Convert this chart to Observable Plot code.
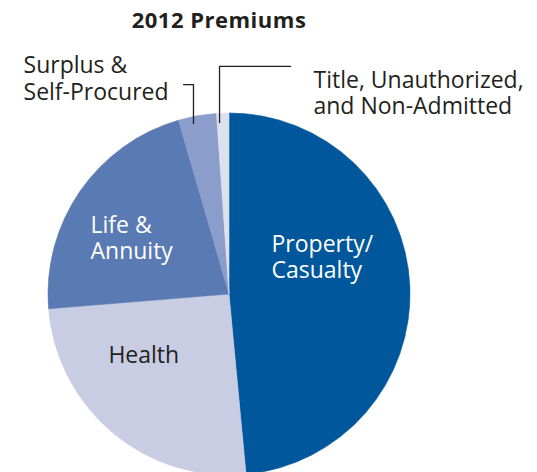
<!DOCTYPE html>
<html><head><meta charset="utf-8">
<script src="https://cdn.jsdelivr.net/npm/d3@7"></script>
<script src="https://cdn.jsdelivr.net/npm/@observablehq/plot@0.6"></script>
<style>
body{margin:0;background:#fff;}
#chart{width:537px;height:472px;overflow:hidden;position:relative;}
#title{height:40px;position:relative;}
#title span{position:absolute;top:6.5px;left:0;width:438px;text-align:center;font:bold 22px/24px "Open Sans";letter-spacing:0.5px;color:#231f20;}
</style></head><body>
<div id="chart"><div id="title"><span>2012 Premiums</span></div></div>
<script>
// ---- data ----
const categories = ["Property/Casualty", "Health", "Life & Annuity", "Surplus & Self-Procured", "Title, Unauthorized, and Non-Admitted"];
const shares = [48.5, 25.2, 21.8, 3.4, 1.1];
const labelTexts = ["Property/\nCasualty", "Health", "Life &\nAnnuity", "Surplus &\nSelf-Procured", "Title, Unauthorized,\nand Non-Admitted"];

// ---- style / layout ----
const sliceColors = ["#00579c", "#c8cde3", "#5a7ab3", "#8a9dcb", "#dde1ef"];
const labelColors = ["#ffffff", "#231f20", "#ffffff", "#231f20", "#231f20"];
const labelPos = [[0.232, 0.211], [-0.669, -0.330], [-0.768, 0.316], [-1.138, 1.197], [0.464, 1.117]];
const leaderPaths = [
  [[-0.254, 1.160], [-0.199, 1.160], [-0.199, 0.945]],
  [[0.337, 1.260], [-0.055, 1.260], [-0.055, 0.950]]
];

const rows = categories.map((name, i) => ({name, share: shares[i]}));
const labels = categories.map((name, i) => ({name, text: labelTexts[i], u: labelPos[i][0], v: labelPos[i][1], fill: labelColors[i]}));
const leaderRows = leaderPaths.flatMap((p, k) => p.map(([u, v]) => ({k, u, v})));

function pieMark(index, scales) {
  const cx = scales.x(0), cy = scales.y(0), r = scales.x(1) - scales.x(0);
  const color = scales.color || d3.scaleOrdinal(categories, sliceColors);
  const arcs = d3.pie().sort(null).value(d => d.share)(rows);
  const arc = d3.arc().innerRadius(0).outerRadius(r);
  const g = d3.create("svg:g").attr("transform", `translate(${cx},${cy})`);
  g.selectAll("path").data(arcs).join("path")
    .attr("d", arc)
    .attr("fill", d => color(d.data.name))
    .attr("stroke", d => color(d.data.name))
    .attr("stroke-width", 0.6);
  return g.node();
}

const chart = Plot.plot({
  width: 537,
  height: 432,
  margin: 0,
  x: {domain: [-1, 1], range: [48, 410], axis: null},
  y: {domain: [-1, 1], range: [435, 73], axis: null},
  color: {domain: categories, range: sliceColors},
  style: {fontFamily: "Open Sans", background: "transparent", overflow: "hidden"},
  marks: [
    pieMark,
    Plot.line(leaderRows, {x: "u", y: "v", z: "k", stroke: "#231f20", strokeWidth: 1.3}),
    Plot.text(labels, {x: "u", y: "v", text: "text", fill: "fill", textAnchor: "start", lineAnchor: "middle", lineHeight: 1.15, fontSize: 23})
  ]
});
document.getElementById("chart").appendChild(chart);
</script>
</body></html>
